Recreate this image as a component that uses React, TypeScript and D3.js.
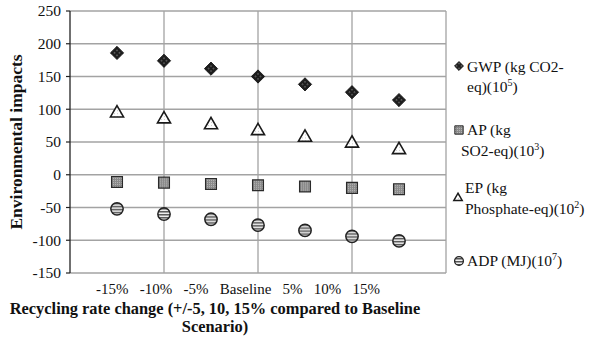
import React from "react";
import * as d3 from "d3";

// values
const categories = ["-15%", "-10%", "-5%", "Baseline", "5%", "10%", "15%"];
const gwp = [186, 174, 162, 150, 138, 126, 114];
const ep = [94, 85, 76, 67, 57, 48, 38];
const ap = [-11, -12, -14, -16, -18, -20, -22];
const adp = [-52, -60, -68, -77, -85, -94, -101];
const yTicks = [-150, -100, -50, 0, 50, 100, 150, 200, 250];
const xGrid = [2, 4, 6];

const W = 597;
const H = 344;
const margin = { top: 11, right: 151, bottom: 71, left: 70 };

const font = "Liberation Serif, Times New Roman, serif";

const App = () => {
  const x = d3.scaleLinear().domain([0, 8]).range([margin.left, W - margin.right]);
  const y = d3.scaleLinear().domain([-150, 250]).range([H - margin.bottom, margin.top]);

  const diamond = d3.symbol(d3.symbolSquare, 88)()!;
  const square = d3.symbol(d3.symbolSquare, 118)()!;
  const triangle = d3.symbol(d3.symbolTriangle, 74)()!;
  const circle = d3.symbol(d3.symbolCircle, 120)()!;

  const series = [
    { name: "GWP", values: gwp, path: diamond, rot: 45, fill: "url(#pDiamond)", stroke: "#111", sw: 0.8 },
    { name: "AP", values: ap, path: square, rot: 0, fill: "url(#pSquare)", stroke: "#2a2a2a", sw: 1.2 },
    { name: "EP", values: ep, path: triangle, rot: 0, fill: "url(#pTri)", stroke: "#1a1a1a", sw: 1.6 },
    { name: "ADP", values: adp, path: circle, rot: 0, fill: "url(#pCircle)", stroke: "#222", sw: 1.5 },
  ];

  const x0 = margin.left;
  const x1 = W - margin.right;
  const yTop = y(250);
  const yBot = y(-150);

  return (
    <svg width={W} height={H} style={{ position: "absolute", left: 0, top: 0, background: "#fff" }} fontFamily={font}>
      <defs>
        <pattern id="pDiamond" width="3.5" height="3.5" patternUnits="userSpaceOnUse">
          <rect width="3.5" height="3.5" fill="#1c1c1c" />
          <rect x="1.2" y="1.2" width="1" height="1" fill="#bbb" />
        </pattern>
        <pattern id="pSquare" width="2" height="2" patternUnits="userSpaceOnUse">
          <rect width="2" height="2" fill="#8a8a8a" />
          <rect width="1" height="1" fill="#b5b5b5" />
        </pattern>
        <pattern id="pTri" width="3" height="3" patternUnits="userSpaceOnUse">
          <rect width="3" height="3" fill="#fff" />
          <rect width="1" height="1" fill="#ccc" />
        </pattern>
        <pattern id="pCircle" width="3" height="3" patternUnits="userSpaceOnUse">
          <rect width="3" height="3" fill="#f2f2f2" />
          <rect y="0" width="3" height="1.5" fill="#555" />
        </pattern>
      </defs>

      {/* grid */}
      {yTicks.map((t) => (
        <line key={"h" + t} x1={x0} x2={x1} y1={y(t)} y2={y(t)} stroke="#a3a3a3" strokeWidth={1.3} />
      ))}
      {xGrid.map((t) => (
        <line key={"v" + t} x1={x(t)} x2={x(t)} y1={yTop} y2={yBot} stroke="#a3a3a3" strokeWidth={1.3} />
      ))}
      <line x1={x1} x2={x1} y1={yTop} y2={yBot} stroke="#a3a3a3" strokeWidth={1.3} />

      {/* y axis */}
      <line x1={x0} x2={x0} y1={yTop} y2={yBot} stroke="#222" strokeWidth={1.3} />
      {yTicks.map((t) => (
        <g key={"t" + t}>
          <line x1={x0 - 4} x2={x0} y1={y(t)} y2={y(t)} stroke="#222" strokeWidth={1.2} />
          <text x={x0 - 9} y={y(t)} dy="0.34em" textAnchor="end" fontSize={15.5} fill="#111">
            {t}
          </text>
        </g>
      ))}

      {/* points */}
      {series.map((s) =>
        s.values.map((v, i) => (
          <path
            key={s.name + i}
            d={s.path}
            transform={`translate(${x(i + 1)},${y(v)}) rotate(${s.rot})`}
            fill={s.fill}
            stroke={s.stroke}
            strokeWidth={s.sw}
          />
        ))
      )}

      {/* category labels typed under the plot */}
      <text x={96} y={294} fontSize={15} fill="#111" style={{ whiteSpace: "pre" }} xmlSpace="preserve">
        {categories.join("   ")}
      </text>

      {/* axis titles */}
      <text transform={`translate(22,${(yTop + yBot) / 2}) rotate(-90)`} textAnchor="middle" fontSize={17.5} fontWeight="bold" fill="#111">
        Environmental impacts
      </text>
      <text x={215} y={314} textAnchor="middle" fontSize={16.4} fontWeight="bold" fill="#111">
        Recycling rate change (+/-5, 10, 15% compared to Baseline
      </text>
      <text x={215} y={332} textAnchor="middle" fontSize={16.4} fontWeight="bold" fill="#111">
        Scenario)
      </text>

      {/* legend */}
      <g fontSize={15.5} fill="#111">
        <path d={d3.symbol(d3.symbolSquare, 40)()!} transform="translate(459,66) rotate(45)" fill="url(#pDiamond)" stroke="#111" strokeWidth={0.8} />
        <text x={467} y={71.5}>GWP (kg CO2-</text>
        <text x={467} y={92}>
          eq)(10<tspan dy={-6} fontSize={10}>5</tspan>
          <tspan dy={6}>)</tspan>
        </text>

        <path d={d3.symbol(d3.symbolSquare, 70)()!} transform="translate(459,130)" fill="url(#pSquare)" stroke="#2a2a2a" strokeWidth={1} />
        <text x={467} y={135}>AP (kg</text>
        <text x={461} y={156}>
          SO2-eq)(10<tspan dy={-6} fontSize={10}>3</tspan>
          <tspan dy={6}>)</tspan>
        </text>

        <path d={d3.symbol(d3.symbolTriangle, 30)()!} transform="translate(458,198)" fill="url(#pTri)" stroke="#1a1a1a" strokeWidth={1.5} />
        <text x={465} y={192.5}>EP (kg</text>
        <text x={465} y={214}>
          Phosphate-eq)(10<tspan dy={-6} fontSize={10}>2</tspan>
          <tspan dy={6}>)</tspan>
        </text>

        <path d={d3.symbol(d3.symbolCircle, 60)()!} transform="translate(459,261)" fill="url(#pCircle)" stroke="#222" strokeWidth={1.3} />
        <text x={467} y={266}>
          ADP (MJ)(10<tspan dy={-6} fontSize={10}>7</tspan>
          <tspan dy={6}>)</tspan>
        </text>
      </g>
    </svg>
  );
};

export default App;
